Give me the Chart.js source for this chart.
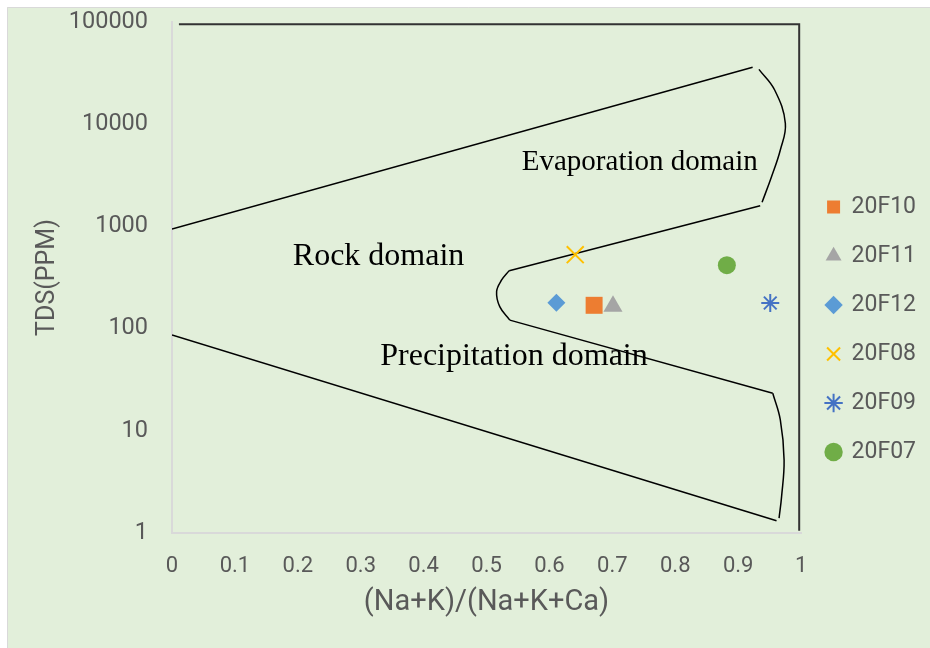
<!DOCTYPE html>
<html>
<head>
<meta charset="utf-8">
<script src="https://cdn.jsdelivr.net/npm/chart.js@4.4.1/dist/chart.umd.min.js"></script>
<style>
html,body{margin:0;padding:0;background:#fff;}
canvas{display:block;}
</style>
</head>
<body>
<canvas id="chart" width="930" height="648"></canvas>
<script>

// samples
const sampleNames=["20F10","20F11","20F12","20F08","20F09","20F07"];
const sampleRatio=[0.671,0.701,0.611,0.641,0.951,0.882];
const sampleTds=[169,165,179,529,178,417];
const sampleColors=["#ed7d31","#a5a5a5","#5b9bd5","#ffc000","#4472c4","#70ad47"];
const sampleShapes=["rect","triangle","rectRot","crossRot","star","circle"];
const sampleSizes=[12,11,9,12,9,9];

// axis ticks
const xTicks=[0,0.1,0.2,0.3,0.4,0.5,0.6,0.7,0.8,0.9,1];
const yTicks=[1,10,100,1000,10000,100000];

// gibbs boundary lines (x = ratio, y = TDS)
const frameX=[0.011,0.997,0.997];
const frameY=[95000,95000,1.05];
const upperX=[0,0.923];
const upperY=[940,36000];
const evapX=[0.933,0.958,0.975,0.967,0.953,0.938];
const evapY=[34400,21600,10200,5590,3065,1722];
const midX=[0.935,0.536];
const midY=[1595,369];
const tipX=[0.536,0.524,0.516,0.521,0.537];
const tipY=[369,299,230,164,121];
const lowMidX=[0.537,0.955];
const lowMidY=[121,23.3];
const precipX=[0.955,0.967,0.973,0.969,0.965];
const precipY=[23.3,12.8,5.18,2.27,1.40];
const lowerX=[0.961,0];
const lowerY=[1.32,86.5];

// domain labels
const domainNames=["Evaporation domain","Rock domain","Precipitation domain"];
const domainX=[0.556,0.192,0.331];
const domainY=[3565,419,44];

function pts(xs,ys){
return xs.map((x,i)=>({x:x,y:ys[i]}));
}

function lineSet(xs,ys,curve,color,width){
return {
label:"",
data:pts(xs,ys),
showLine:true,
borderColor:color||"#000",
borderWidth:width||1.5,
pointRadius:0,
pointHoverRadius:0,
tension:curve?0.4:0,
fill:false
};
}

const datasets=[];

sampleNames.forEach((name,i)=>{
datasets.push({
label:name,
data:[{x:sampleRatio[i],y:sampleTds[i]}],
pointStyle:sampleShapes[i],
pointRadius:sampleSizes[i],
backgroundColor:sampleColors[i],
borderColor:sampleColors[i],
borderWidth:(sampleShapes[i]=="crossRot"||sampleShapes[i]=="star")?2:0,
showLine:false
});
});

datasets.push(lineSet(frameX,frameY,false,"#333",2));
datasets.push(lineSet(upperX,upperY,false));
datasets.push(lineSet(evapX,evapY,true));
datasets.push(lineSet(midX,midY,false));
datasets.push(lineSet(tipX,tipY,true));
datasets.push(lineSet(lowMidX,lowMidY,false));
datasets.push(lineSet(precipX,precipY,true));
datasets.push(lineSet(lowerX,lowerY,false));

const backdrop={
id:"backdrop",
beforeDraw(chart){
const c=chart.ctx;
c.save();
c.fillStyle="#ffffff";
c.fillRect(0,0,chart.width,chart.height);
c.fillStyle="#e2efda";
c.fillRect(7,7,chart.width-7,chart.height-7);
c.strokeStyle="#d9d9d9";
c.lineWidth=1;
c.beginPath();
c.moveTo(7.5,chart.height);
c.lineTo(7.5,7.5);
c.lineTo(chart.width,7.5);
c.stroke();
c.restore();
}
};

const domainText={
id:"domainText",
afterDatasetsDraw(chart){
const c=chart.ctx;
const sx=chart.scales.x;
const sy=chart.scales.y;
const sizes=[29,32,32];
c.save();
c.fillStyle="#000";
c.textAlign="left";
c.textBaseline="alphabetic";
domainNames.forEach((t,i)=>{
c.font=sizes[i]+"px 'Liberation Serif', 'Times New Roman', serif";
c.fillText(t,sx.getPixelForValue(domainX[i]),sy.getPixelForValue(domainY[i]));
});
c.restore();
}
};

new Chart(document.getElementById("chart"),{
type:"scatter",
data:{datasets:datasets},
plugins:[backdrop,domainText],
options:{
responsive:false,
animation:false,
layout:{padding:{left:0,right:4,top:22,bottom:11}},
plugins:{
legend:{
position:"right",
labels:{
usePointStyle:true,
boxWidth:13,
boxHeight:13,
padding:26,
color:"#595959",
font:{family:"Roboto",size:23},
filter:item=>sampleNames.includes(item.text)
}
},
tooltip:{enabled:false}
},
scales:{
x:{
type:"linear",
min:0,
max:1,
afterBuildTicks:scale=>{scale.ticks=xTicks.map(v=>({value:v}));},
afterFit:scale=>{scale.height=104;scale.paddingLeft=0;scale.paddingRight=0;},
ticks:{
color:"#595959",
font:{family:"Roboto",size:22},
padding:20,
callback:v=>String(v)
},
grid:{display:false,drawTicks:false},
border:{color:"#d9d9d9",width:2},
title:{
display:true,
text:"(Na+K)/(Na+K+Ca)",
color:"#595959",
font:{family:"Roboto",size:29,weight:"normal"},
padding:{top:0,bottom:17}
}
},
y:{
type:"logarithmic",
min:1,
max:100000,
afterBuildTicks:scale=>{scale.ticks=yTicks.map(v=>({value:v}));},
afterFit:scale=>{scale.width=172;scale.paddingTop=0;scale.paddingBottom=0;},
ticks:{
color:"#595959",
font:{family:"Roboto",size:23.5},
padding:24,
callback:v=>String(v)
},
grid:{display:false,drawTicks:false},
border:{color:"#d9d9d9",width:2},
title:{
display:true,
text:"TDS(PPM)",
color:"#595959",
font:{family:"Roboto",size:25,weight:"normal"},
padding:{top:33,bottom:0}
}
}
}
}
});

</script>
</body>
</html>
